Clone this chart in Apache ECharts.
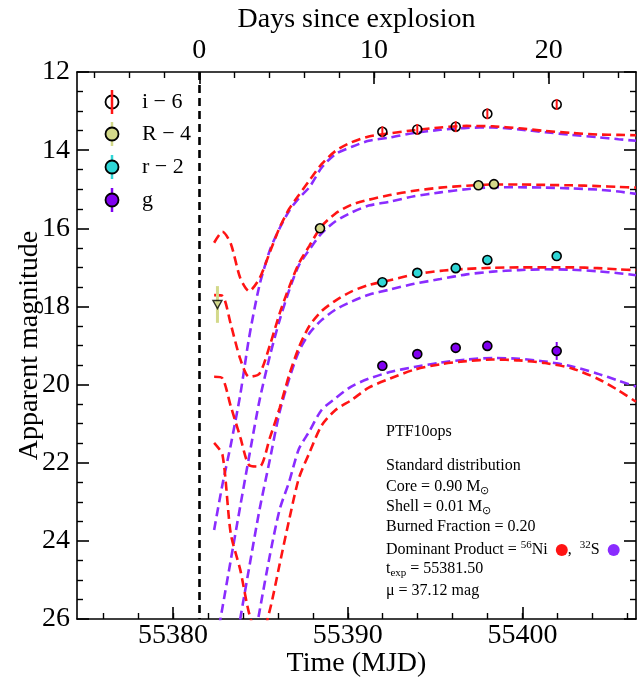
<!DOCTYPE html>
<html>
<head>
<meta charset="utf-8">
<script src="https://cdn.jsdelivr.net/npm/echarts@6/dist/echarts.min.js"></script>
<style>
  html, body { margin: 0; padding: 0; background: #fff; }
  #chart { width: 638px; height: 677px; }
</style>
</head>
<body>
<div id="chart"></div>
<script>
// Explosion epoch (MJD)
const T_EXP = 55381.5;

// Model light-curve sampling times (MJD)
const modelTimes = [55382.35, 55382.83, 55383.3, 55383.85, 55384.35, 55384.95, 55385.55, 55386.1,
  55386.65, 55387.2, 55387.8, 55388.5, 55389.3, 55390.2, 55391.2, 55392.4, 55393.8, 55395.3,
  55396.8, 55398.3, 55399.8, 55401.3, 55402.8, 55404.3, 55405.5, 55406.5];

// Model magnitudes: 56Ni-dominated (red) and 32S-dominated (purple), offset per band
const niI = [16.37, 16.09, 16.39, 17.28, 17.61, 17.28, 16.60, 15.98, 15.50, 15.15, 14.78, 14.36, 14.02,
  13.80, 13.65, 13.57, 13.49, 13.42, 13.38, 13.39, 13.44, 13.51, 13.56, 13.60, 13.61, 13.62];
const sI = [23.72, 22.55, 21.55, 20.25, 18.80, 17.45, 16.55, 16.00, 15.55, 15.23, 14.95, 14.45, 14.10,
  13.92, 13.76, 13.68, 13.56, 13.48, 13.43, 13.42, 13.47, 13.54, 13.61, 13.67, 13.72, 13.76];
const niBigR = [17.71, 17.73, 18.45, 19.35, 19.80, 19.72, 18.98, 18.18, 17.50, 16.90, 16.45, 15.95, 15.62,
  15.40, 15.27, 15.15, 15.04, 14.96, 14.91, 14.88, 14.88, 14.89, 14.90, 14.92, 14.94, 14.96];
const sBigR = [26.9, 25.7, 24.5, 23.1, 21.85, 20.40, 19.25, 18.35, 17.58, 16.95, 16.55, 16.13, 15.82,
  15.60, 15.42, 15.32, 15.18, 15.08, 15.00, 14.95, 14.95, 14.96, 14.98, 15.01, 15.06, 15.12];
const niR = [19.80, 19.84, 20.55, 21.35, 22.06, 22.10, 21.35, 20.60, 19.75, 19.05, 18.50, 18.12, 17.85,
  17.62, 17.45, 17.33, 17.18, 17.09, 17.04, 17.01, 17.00, 17.00, 17.00, 17.02, 17.05, 17.07];
const sR = [29.9, 28.6, 27.4, 25.98, 24.70, 23.20, 21.90, 20.70, 19.85, 19.15, 18.69, 18.35, 18.08,
  17.88, 17.70, 17.57, 17.42, 17.30, 17.18, 17.11, 17.07, 17.05, 17.06, 17.10, 17.15, 17.20];
const niG = [21.49, 21.80, 23.81, 24.75, 25.85, 26.60, 25.75, 24.60, 23.45, 22.40, 21.75, 21.05, 20.65,
  20.40, 20.08, 19.85, 19.62, 19.48, 19.40, 19.36, 19.38, 19.45, 19.58, 19.85, 20.15, 20.44];
const sG = [32.3, 31.1, 29.9, 28.55, 27.3, 25.80, 24.35, 23.20, 22.48, 21.65, 21.20, 20.65, 20.35,
  20.05, 19.85, 19.68, 19.55, 19.44, 19.36, 19.32, 19.34, 19.41, 19.53, 19.72, 19.90, 20.05];

// Photometry (MJD, magnitude, error)
const obsTimes = [55391.98, 55393.98, 55396.18, 55397.99, 55401.96];
const iMag = [13.53, 13.47, 13.40, 13.07, 12.83];
const iErr = [0.14, 0.14, 0.14, 0.14, 0.14];
const rMag = [17.38, 17.14, 17.02, 16.81, 16.71];
const rErr = [0.06, 0.06, 0.06, 0.06, 0.08];
const gMag = [19.52, 19.22, 19.06, 19.01, 19.14];
const gErr = [0.06, 0.06, 0.06, 0.06, 0.23];
const bigRTimes = [55388.41, 55397.48, 55398.37];
const bigRMag = [16.00, 14.90, 14.87];
const bigRErr = [0.05, 0.05, 0.05];
// R-band upper limit
const limitTimes = [55382.54];
const limitMag = [17.95];
const limitErr = [0.47];

// Axis ticks
const mjdMajor = [55380, 55390, 55400];
const mjdMinor = [55376, 55378, 55380, 55382, 55384, 55386, 55388, 55390, 55392, 55394, 55396, 55398,
  55400, 55402, 55404, 55406];
const dayMajor = [0, 10, 20];
const dayMinor = [-6, -4, -2, 0, 2, 4, 6, 8, 10, 12, 14, 16, 18, 20, 22, 24];

const RED = '#ff1414';
const PURPLE = '#8a2cff';
const C_I = RED;
const C_BIGR = '#d3d98a';
const C_R = '#2fd6d6';
const C_G = '#8000f0';
const SERIF = "'Liberation Serif', 'Times New Roman', serif";

const zip = (xs, ys, es) => xs.map((x, k) => es ? [x, ys[k], es[k]] : [x, ys[k]]);
const plain = v => String(v);

function modelLine(name, vals, color, extra) {
  return Object.assign({
    name, type: 'line', data: zip(modelTimes, vals), showSymbol: false, symbol: 'none',
    xAxisIndex: 0, yAxisIndex: 0, clip: true, z: 2, silent: true, smooth: 0.25,
    lineStyle: { color, width: 2.6, type: [9, 5] }
  }, extra || {});
}

function errorBars(name, xs, ys, es, color, width) {
  return {
    name, type: 'custom', xAxisIndex: 0, yAxisIndex: 0, z: 3, silent: true,
    data: zip(xs, ys, es), encode: { x: 0, y: 1 },
    renderItem(params, api) {
      const x = api.value(0), y = api.value(1), e = api.value(2);
      const a = api.coord([x, y - e]), b = api.coord([x, y + e]);
      return { type: 'line', shape: { x1: a[0], y1: a[1], x2: b[0], y2: b[1] },
        style: { stroke: color, lineWidth: width || 2 } };
    }
  };
}

function points(name, xs, ys, fill) {
  return {
    name, type: 'scatter', data: zip(xs, ys), xAxisIndex: 0, yAxisIndex: 0, z: 4, silent: true,
    symbol: 'circle', symbolSize: 9,
    itemStyle: { color: fill, borderColor: '#000', borderWidth: 1.6, opacity: 1 }
  };
}

const tickLabel = { fontFamily: SERIF, fontSize: 28, color: '#000', formatter: plain };
const axisTitle = { fontFamily: SERIF, fontSize: 28, color: '#000' };
const spine = { show: true, onZero: false, lineStyle: { color: '#000', width: 1.6 } };
const noLine = { show: false, onZero: false };

// Legend entries drawn as marker + error bar + label
const legendRows = [
  { label: 'i \u2212 6', fill: 'rgba(0,0,0,0)', bar: C_I, y: 102 },
  { label: 'R \u2212 4', fill: C_BIGR, bar: C_BIGR, y: 134 },
  { label: 'r \u2212 2', fill: C_R, bar: C_R, y: 167 },
  { label: 'g', fill: C_G, bar: C_G, y: 200 }
];
const legendGraphics = [];
legendRows.forEach(row => {
  const hollow = row.fill === 'rgba(0,0,0,0)';
  const bar = { type: 'line', shape: { x1: 112, y1: row.y - 12, x2: 112, y2: row.y + 12 },
    style: { stroke: row.bar, lineWidth: 2.5 }, z: hollow ? 12 : 10 };
  legendGraphics.push(bar);
  legendGraphics.push({ type: 'circle', shape: { cx: 112, cy: row.y, r: 6.5 },
    style: { fill: row.fill, stroke: '#000', lineWidth: 1.8 }, z: 11 });
  legendGraphics.push({ type: 'text', x: 142, y: row.y, z: 12,
    style: { text: row.label, font: '22px ' + SERIF, fill: '#000', verticalAlign: 'middle', align: 'left' } });
});

// Model annotation block
const richStyles = {
  n: { fontFamily: SERIF, fontSize: 16, lineHeight: 20, color: '#000' },
  sub: { fontFamily: SERIF, fontSize: 11, lineHeight: 9, color: '#000', verticalAlign: 'bottom' },
  sup: { fontFamily: SERIF, fontSize: 11, lineHeight: 9, color: '#000', verticalAlign: 'top' },
  dotr: { width: 12, height: 12, borderRadius: 6, backgroundColor: RED, lineHeight: 12 },
  dotp: { width: 12, height: 12, borderRadius: 6, backgroundColor: PURPLE, lineHeight: 12 }
};
const noteLines = [
  { y: 432, text: '{n|PTF10ops}' },
  { y: 466, text: '{n|Standard distribution}' },
  { y: 487, text: '{n|Core = 0.90 M}{sub|\u2299}' },
  { y: 507, text: '{n|Shell = 0.01 M}{sub|\u2299}' },
  { y: 527, text: '{n|Burned Fraction = 0.20}' },
  { y: 550, text: '{n|Dominant Product = }{sup|56}{n|Ni  }{dotr| }{n|,  }{sup|32}{n|S  }{dotp| }' },
  { y: 569, text: '{n|t}{sub|exp}{n| = 55381.50}' },
  { y: 591, text: '{n|\u03bc = 37.12 mag}' }
];
const noteGraphics = noteLines.map(l => ({
  type: 'text', x: 386, y: l.y, z: 12,
  style: { text: l.text, rich: richStyles, verticalAlign: 'middle', align: 'left' }
}));

const option = {
  animation: false,
  backgroundColor: '#fff',
  grid: { left: 77, right: 2, top: 72, bottom: 58, containLabel: false, outerBoundsMode: 'none' },
  xAxis: [
    {
      type: 'value', position: 'bottom', min: 55374.5, max: 55406.5,
      axisLine: spine, splitLine: { show: false },
      axisTick: { show: true, inside: true, length: 12, customValues: mjdMajor, lineStyle: { color: '#000', width: 1.6 } },
      axisLabel: Object.assign({ customValues: mjdMajor, margin: 3 }, tickLabel),
      name: 'Time (MJD)', nameLocation: 'middle', nameGap: 31, nameMoveOverlap: false, nameTextStyle: axisTitle
    },
    {
      type: 'value', position: 'top', min: -7, max: 25,
      axisLine: spine, splitLine: { show: false },
      axisTick: { show: true, inside: true, length: 12, customValues: dayMajor, lineStyle: { color: '#000', width: 1.6 } },
      axisLabel: Object.assign({ customValues: dayMajor, margin: 7 }, tickLabel),
      name: 'Days since explosion', nameLocation: 'middle', nameGap: 38, nameMoveOverlap: false, nameTextStyle: axisTitle
    },
    {
      type: 'value', position: 'bottom', min: 55374.5, max: 55406.5,
      axisLine: noLine, splitLine: { show: false }, axisLabel: { show: false },
      axisTick: { show: true, inside: true, length: 6, customValues: mjdMinor, lineStyle: { color: '#000', width: 1.4 } }
    },
    {
      type: 'value', position: 'top', min: -7, max: 25,
      axisLine: noLine, splitLine: { show: false }, axisLabel: { show: false },
      axisTick: { show: true, inside: true, length: 6, customValues: dayMinor, lineStyle: { color: '#000', width: 1.4 } }
    }
  ],
  yAxis: [
    {
      type: 'value', position: 'left', min: 12, max: 26, interval: 2, inverse: true,
      axisLine: spine, splitLine: { show: false },
      axisTick: { show: true, inside: true, length: 12, lineStyle: { color: '#000', width: 1.6 } },
      minorTick: { show: true, splitNumber: 4, length: 6, lineStyle: { color: '#000', width: 1.4 } },
      minorSplitLine: { show: false },
      axisLabel: Object.assign({ margin: 7 }, tickLabel),
      name: 'Apparent magnitude', nameLocation: 'middle', nameGap: 33, nameRotate: 90,
      nameMoveOverlap: false, nameTextStyle: axisTitle
    },
    {
      type: 'value', position: 'right', min: 12, max: 26, interval: 2, inverse: true,
      axisLine: spine, splitLine: { show: false }, axisLabel: { show: false },
      axisTick: { show: true, inside: true, length: 12, lineStyle: { color: '#000', width: 1.6 } },
      minorTick: { show: true, splitNumber: 4, length: 6, lineStyle: { color: '#000', width: 1.4 } },
      minorSplitLine: { show: false }
    }
  ],
  graphic: legendGraphics.concat(noteGraphics),
  series: [
    modelLine('S i', sI, PURPLE, {
      markLine: {
        silent: true, symbol: ['none', 'none'], label: { show: false },
        lineStyle: { color: '#000', width: 2.6, type: [8, 5] },
        data: [{ xAxis: T_EXP }]
      }
    }),
    modelLine('S R', sBigR, PURPLE),
    modelLine('S r', sR, PURPLE),
    modelLine('S g', sG, PURPLE),
    modelLine('Ni i', niI, RED),
    modelLine('Ni R', niBigR, RED),
    modelLine('Ni r', niR, RED),
    modelLine('Ni g', niG, RED),

    errorBars('err R limit', limitTimes, limitMag, limitErr, C_BIGR, 3),
    errorBars('err R', bigRTimes, bigRMag, bigRErr, C_BIGR, 2),
    errorBars('err r', obsTimes, rMag, rErr, C_R, 2),
    errorBars('err g', obsTimes, gMag, gErr, C_G, 2),
    points('R', bigRTimes, bigRMag, C_BIGR),
    points('r', obsTimes, rMag, C_R),
    points('g', obsTimes, gMag, C_G),
    points('i', obsTimes, iMag, 'rgba(0,0,0,0)'),
    Object.assign(errorBars('err i', obsTimes, iMag, iErr, C_I, 2), { z: 5 }),
    {
      name: 'R limit', type: 'scatter', data: zip(limitTimes, limitMag), xAxisIndex: 0, yAxisIndex: 0,
      z: 4, silent: true, symbol: 'triangle', symbolRotate: 180, symbolSize: [9, 8],
      itemStyle: { color: C_BIGR, borderColor: '#000', borderWidth: 1.4 }
    }
  ]
};

const chart = echarts.init(document.getElementById('chart'), null, { renderer: 'canvas' });
chart.setOption(option);
</script>
</body>
</html>
